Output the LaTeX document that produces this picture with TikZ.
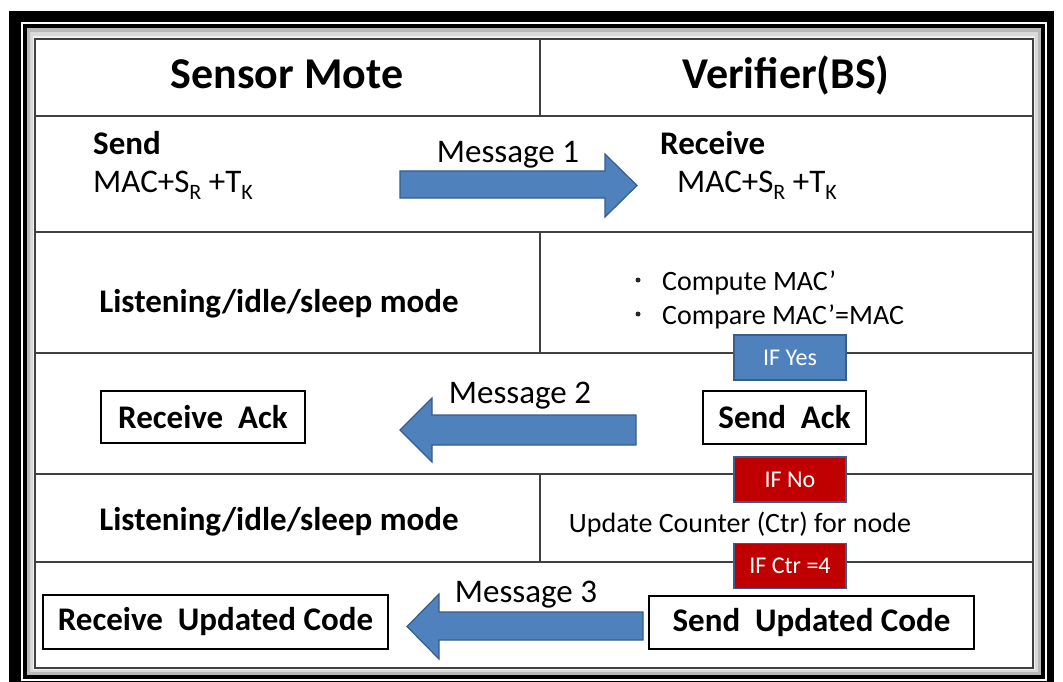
\documentclass[tikz,border=0pt]{standalone}
\usepackage{fontspec}
\setmainfont{Carlito}
\definecolor{offblue}{HTML}{4F81BD}
\definecolor{offborder}{HTML}{385D8A}
\definecolor{offred}{HTML}{C00000}
\definecolor{tablegray}{HTML}{404040}
\newcommand{\mysub}[1]{\raisebox{-7pt}{\fontsize{22}{22}\selectfont #1}}
\begin{document}
\begin{tikzpicture}[x=1pt,y=-1pt,
  tline/.style={draw=tablegray,line width=1.6pt},
  hdr/.style={font=\fontsize{44}{50}\selectfont\bfseries,inner sep=0pt},
  bodyb/.style={font=\fontsize{33}{38}\selectfont\bfseries,inner sep=0pt},
  bodyr/.style={font=\fontsize{33}{38}\selectfont,inner sep=0pt},
  smalltxt/.style={font=\fontsize{28}{32}\selectfont,inner sep=0pt},
  bulletdot/.style={circle,fill=black!85,inner sep=0pt,minimum size=5pt},
  tagbox/.style={draw=offborder,line width=1.5pt,text=white,font=\fontsize{24}{28}\selectfont,
    minimum width=112pt,minimum height=45pt,inner sep=0pt},
  tagblue/.style={tagbox,fill=offblue},
  tagred/.style={tagbox,fill=offred},
  boxed/.style={draw=black,line width=2pt,fill=white,font=\fontsize{33}{38}\selectfont\bfseries,inner sep=0pt},
  blockarrow/.style={fill=offblue,draw=offborder,line width=1.2pt,line join=miter}
]
\useasboundingbox (0,0) rectangle (1063,682);
% ---- frame ----
\fill[black] (9,11) rectangle (1054,682);
\draw[white,line width=2pt] (21.5,23.5) rectangle (1045.5,679.5);
\fill[gray!55] (27,28) rectangle (1041,675);
\fill[gray!30] (30,32) rectangle (1038,672);
\fill[gray!12] (33,36) rectangle (1035,670);
\fill[white] (35,39) rectangle (1033,668);
% ---- table ----
\draw[tline] (35,39) rectangle (1033,668);
\draw[tline] (35,116) -- (1033,116);
\draw[tline] (35,232) -- (1033,232);
\draw[tline] (35,353) -- (1033,353);
\draw[tline] (35,474) -- (1033,474);
\draw[tline] (35,562) -- (1033,562);
\draw[tline] (540,39) -- (540,116);
\draw[tline] (540,232) -- (540,353);
\draw[tline] (540,474) -- (540,562);
% ---- headers ----
\node[hdr,anchor=base] (sm) at (287,89) {Sensor Mote};
\node[hdr,anchor=base] (vf) at (786,89) {Verifier(BS)};
% ---- row: message 1 ----
\node[bodyb,anchor=base west] (send) at (93,154) {Send};
\node[bodyr,anchor=base west] (mac1) at (93,192) {MAC+S\mysub{R} +T\mysub{K}};
\node[bodyb,anchor=base west] (recv) at (660,155) {Receive};
\node[bodyr,anchor=base west] (mac2) at (677,193) {MAC+S\mysub{R} +T\mysub{K}};
\node[bodyr,anchor=base] (m1) at (508,162) {Message 1};
\draw[blockarrow] (400,171) -- (605,171) -- (605,154) -- (637,185.5) -- (605,217) -- (605,198) -- (400,198) -- cycle;
% ---- row: listening 1 / compute ----
\node[bodyb,anchor=base] (lis1) at (279,312) {Listening/idle/sleep mode};
\node[bulletdot] (b1) at (638,280) {};
\node[smalltxt,anchor=base west] (cmp1) at (662,290) {Compute MAC’};
\node[bulletdot] (b2) at (638,314) {};
\node[smalltxt,anchor=base west] (cmp2) at (662,324) {Compare MAC’=MAC};
% ---- row: message 2 ----
\node[tagblue] (ifyes) at (790,357.5) {IF Yes};
\node[boxed,minimum width=163pt,minimum height=53pt] (sack) at (784.5,417.5) {Send\ \ Ack};
\node[boxed,minimum width=204pt,minimum height=52pt] (rack) at (203,417) {Receive\ \ Ack};
\node[bodyr,anchor=base] (m2) at (520,403) {Message 2};
\draw[blockarrow] (636,415) -- (432,415) -- (432,398) -- (400,430) -- (432,462) -- (432,445) -- (636,445) -- cycle;
% ---- row: listening 2 / counter ----
\node[tagred] (ifno) at (790,479.5) {IF No};
\node[bodyb,anchor=base] (lis2) at (279,530) {Listening/idle/sleep mode};
\node[smalltxt,anchor=base] (upd) at (740,532) {Update Counter (Ctr) for node};
\node[tagred] (ifctr) at (790,566) {IF Ctr =4};
% ---- row: message 3 ----
\node[boxed,minimum width=325pt,minimum height=53pt] (supd) at (811.5,622.5) {Send\ \ Updated Code};
\node[boxed,minimum width=345pt,minimum height=54pt] (rupd) at (215.5,622) {Receive\ \ Updated Code};
\node[bodyr,anchor=base] (m3) at (526,602) {Message 3};
\draw[blockarrow] (643,612) -- (439,612) -- (439,594) -- (407,626.5) -- (439,659) -- (439,640) -- (643,640) -- cycle;
\end{tikzpicture}
\end{document}
